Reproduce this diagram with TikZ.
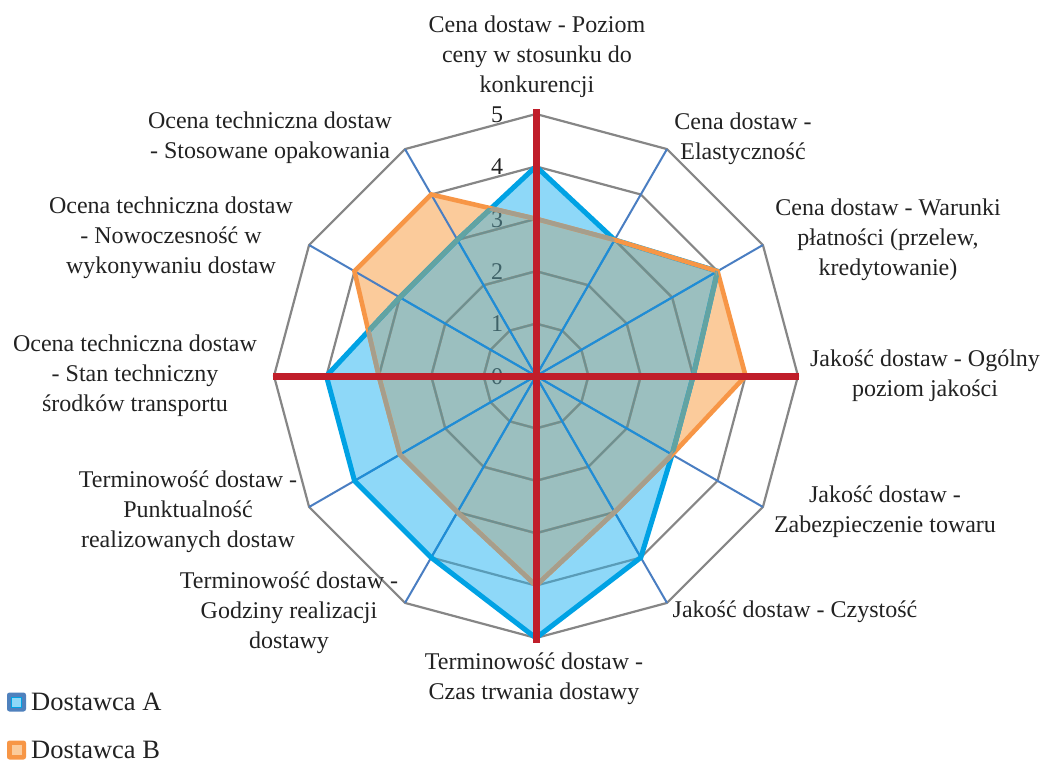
\documentclass[tikz,border=0pt]{standalone}
\usepackage{fontspec}
\setmainfont{Liberation Serif}
\definecolor{txt}{HTML}{222222}
\definecolor{fillA}{HTML}{8ED8F8}
\definecolor{fillB}{HTML}{FBCB9B}
\definecolor{fillAB}{HTML}{9BBFBF}
\definecolor{ringgray}{HTML}{868686}
\definecolor{ringA}{HTML}{5A9CB8}
\definecolor{ringB}{HTML}{C89E78}
\definecolor{ringAB}{HTML}{6E9090}
\definecolor{spokeout}{HTML}{4A7EC2}
\definecolor{spokein}{HTML}{1E8ED6}
\definecolor{lineA}{HTML}{00A2E4}
\definecolor{lineB}{HTML}{F79646}
\definecolor{lineAm}{HTML}{62A3A2}
\definecolor{lineBm}{HTML}{A69E8C}
\definecolor{redax}{HTML}{C01E2A}
\definecolor{tickin}{HTML}{3F6268}
\definecolor{legA}{HTML}{4F81BD}
\begin{document}
\begin{tikzpicture}[x=1pt,y=-1pt,
  lbl/.style={align=center,font=\fontsize{24}{30}\selectfont,text=txt,inner sep=0pt},
  tick/.style={font=\fontsize{24}{28}\selectfont,inner sep=0pt},
  ring/.style={line width=2.2pt,line join=miter},
  spoke/.style={line width=2pt},
  serA/.style={line width=5pt,line join=miter,draw=lineA},
  serB/.style={line width=4.6pt,line join=miter,draw=lineB},
  axisred/.style={line width=7pt,draw=redax},
  legtxt/.style={font=\fontsize{26.5}{30}\selectfont,text=txt,inner sep=0pt,anchor=west}]
\useasboundingbox[fill=white] (0,0) rectangle (1042,763);
\def\cx{536}\def\cy{376}\def\u{52.4}
\coordinate (C) at (\cx,\cy);
\foreach \i in {1,...,12}{
  \pgfmathsetmacro\ang{(\i-1)*30}
  \coordinate (O\i) at ({\cx+5*\u*sin(\ang)},{\cy-5*\u*cos(\ang)});
}
\foreach \i/\a/\b in {1/4/3,2/3/3,3/4/4,4/3/4,5/3/3,6/4/3,7/5/4,8/4/3,9/4/3,10/4/3,11/3/4,12/3/4}{
  \pgfmathsetmacro\ang{(\i-1)*30}
  \coordinate (A\i) at ({\cx+\a*\u*sin(\ang)},{\cy-\a*\u*cos(\ang)});
  \coordinate (B\i) at ({\cx+\b*\u*sin(\ang)},{\cy-\b*\u*cos(\ang)});
}
\def\pathA{(A1)--(A2)--(A3)--(A4)--(A5)--(A6)--(A7)--(A8)--(A9)--(A10)--(A11)--(A12)--cycle}
\def\pathB{(B1)--(B2)--(B3)--(B4)--(B5)--(B6)--(B7)--(B8)--(B9)--(B10)--(B11)--(B12)--cycle}
\newcommand\myrings[1]{%
  \foreach \k in {1,...,5}{
    \draw[ring,draw=#1] ({\cx},{\cy-\k*\u})
      \foreach \j in {1,...,11}{ -- ({\cx+\k*\u*sin(\j*30)},{\cy-\k*\u*cos(\j*30)}) } -- cycle;
  }}
\newcommand\myspokes[1]{%
  \foreach \i in {1,...,12}{ \draw[spoke,draw=#1] (C) -- (O\i); }}
% grid rings
\myrings{ringgray}
% fills
\fill[fillA] \pathA;
\fill[fillB] \pathB;
\begin{scope}
  \clip \pathA;
  \fill[fillAB] \pathB;
\end{scope}
% rings seen through fills
\begin{scope}\clip \pathA; \myrings{ringA}\end{scope}
\begin{scope}\clip \pathB; \myrings{ringB}\end{scope}
\begin{scope}\clip \pathA; \clip \pathB; \myrings{ringAB}\end{scope}
% tick labels
\node[tick,text=tickin] (t0) at (497,377) {0};
\node[tick,text=tickin] (t1) at (497,324) {1};
\node[tick,text=tickin] (t2) at (497,272) {2};
\node[tick,text=tickin] (t3) at (497,220) {3};
\node[tick,text=txt] (t4) at (497,167) {4};
\node[tick,text=txt] (t5) at (497,115) {5};
% spokes
\myspokes{spokeout}
\begin{scope}\clip \pathA; \myspokes{spokein}\end{scope}
% series outlines
\draw[serA] \pathA;
\draw[serB] \pathB;
\begin{scope}\clip \pathB;
  \draw[serA,draw=lineAm] (A3)--(A4)--(A5)--(A6)--(A7)--(A8)--(A9)--(A10)--(A11)--(A12)--(A1)--(A2);
\end{scope}
\begin{scope}\clip \pathA;
  \draw[serB,draw=lineBm] (B3)--(B4)--(B5)--(B6)--(B7)--(B8)--(B9)--(B10)--(B11)--(B12)--(B1)--(B2);
\end{scope}
% red axes
\coordinate (RT) at (\cx,{\cy-267});
\coordinate (RB) at (\cx,{\cy+267});
\coordinate (RL) at ({\cx-263},\cy);
\coordinate (RR) at ({\cx+263},\cy);
\draw[axisred] (RT) -- (RB);
\draw[axisred] (RL) -- (RR);
% category labels
\node[lbl] (L1) at (537,57) {Cena dostaw - Poziom\\ceny w stosunku do\\konkurencji};
\node[lbl] (L2) at (743,139) {Cena dostaw -\\Elastyczność};
\node[lbl] (L3) at (888,240) {Cena dostaw - Warunki\\płatności (przelew,\\kredytowanie)};
\node[lbl] (L4) at (925,376) {Jakość dostaw - Ogólny\\poziom jakości};
\node[lbl] (L5) at (885,512) {Jakość dostaw -\\Zabezpieczenie towaru};
\node[lbl] (L6) at (795,612) {Jakość dostaw - Czystość};
\node[lbl] (L7) at (534,679) {Terminowość dostaw -\\Czas trwania dostawy};
\node[lbl] (L8) at (289,613) {Terminowość dostaw -\\Godziny realizacji\\dostawy};
\node[lbl] (L9) at (188,512) {Terminowość dostaw -\\Punktualność\\realizowanych dostaw};
\node[lbl] (L10) at (135,376) {Ocena techniczna dostaw\\- Stan techniczny\\środków transportu};
\node[lbl] (L11) at (171,238) {Ocena techniczna dostaw\\- Nowoczesność w\\wykonywaniu dostaw};
\node[lbl] (L12) at (270,138) {Ocena techniczna dostaw\\- Stosowane opakowania};
% legend
\node[fill=legA,rounded corners=2.5pt,minimum size=19pt,inner sep=0pt] (mA) at (16.5,702) {};
\node[fill=fillA,draw=lineA,line width=1pt,minimum size=10pt,inner sep=0pt] (mAi) at (mA) {};
\node[legtxt] (tA) at (31,702) {Dostawca A};
\node[fill=lineB,rounded corners=2.5pt,minimum size=19pt,inner sep=0pt] (mB) at (16.5,750) {};
\node[fill=fillB,minimum size=10pt,inner sep=0pt] (mBi) at (mB) {};
\node[legtxt] (tB) at (31,750) {Dostawca B};
\end{tikzpicture}
\end{document}
